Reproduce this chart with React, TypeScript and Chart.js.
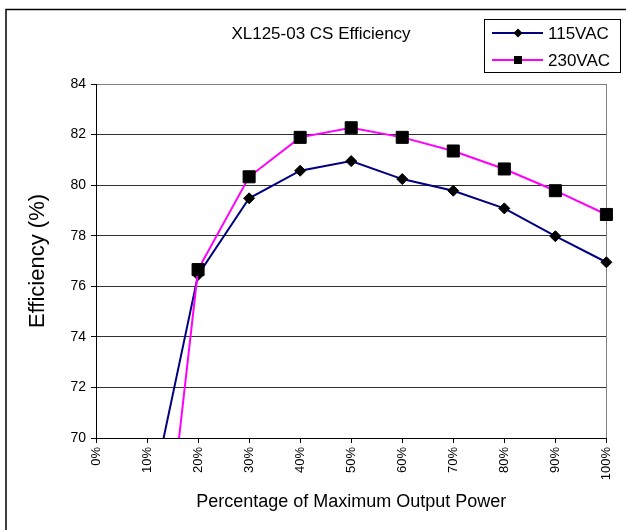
import { useEffect, useRef } from 'react';
import { Chart, registerables } from 'chart.js';

Chart.register(...registerables);

const chartTitle = 'XL125-03 CS Efficiency';
const xTitle = 'Percentage of Maximum Output Power';
const yTitle = 'Efficiency (%)';
const categories = ['0%', '10%', '20%', '30%', '40%', '50%', '60%', '70%', '80%', '90%', '100%'];
const seriesNames = ['115VAC', '230VAC'];
const series115 = [null, 66.9, 76.45, 79.48, 80.57, 80.95, 80.24, 79.78, 79.08, 77.98, 76.95];
const series230 = [null, 58.8, 76.66, 80.33, 81.89, 82.27, 81.89, 81.35, 80.64, 79.78, 78.84];
const yMin = 70;
const yMax = 84;
const yStep = 2;

const FONT = '"Liberation Sans", Arial, Helvetica, sans-serif';

const framePlugin = {
  id: 'frame',
  beforeDraw(chart: any) {
    const { ctx, width, height } = chart;
    ctx.save();
    ctx.fillStyle = '#ffffff';
    ctx.fillRect(0, 0, width, height);
    ctx.restore();
  },
  beforeDatasetsDraw(chart: any) {
    const { ctx, chartArea } = chart;
    ctx.save();
    ctx.strokeStyle = '#808080';
    ctx.lineWidth = 1;
    const x = Math.round(chartArea.right) + 0.5;
    ctx.beginPath();
    ctx.moveTo(x, chartArea.top);
    ctx.lineTo(x, chartArea.bottom);
    ctx.stroke();
    ctx.restore();
  },
  afterDraw(chart: any) {
    const { ctx } = chart;
    ctx.save();
    // outer frame
    ctx.strokeStyle = '#000000';
    ctx.lineWidth = 1.5;
    ctx.strokeRect(6, 9.5, 700, 600);

    // title
    ctx.fillStyle = '#000000';
    ctx.font = `17px ${FONT}`;
    ctx.textAlign = 'center';
    ctx.textBaseline = 'middle';
    ctx.fillText(chartTitle, 321, 34);

    // legend box
    ctx.lineWidth = 1;
    ctx.strokeStyle = '#000000';
    ctx.strokeRect(484.5, 19.5, 136, 53);
    const ds = chart.data.datasets;
    const rows = [33, 60];
    ds.forEach((d: any, i: number) => {
      const y = rows[i];
      ctx.strokeStyle = d.borderColor;
      ctx.lineWidth = 2;
      ctx.beginPath();
      ctx.moveTo(492, y);
      ctx.lineTo(543, y);
      ctx.stroke();
      ctx.fillStyle = '#000000';
      ctx.beginPath();
      if (d.pointStyle === 'rectRot') {
        ctx.moveTo(518, y - 4.5);
        ctx.lineTo(522.5, y);
        ctx.lineTo(518, y + 4.5);
        ctx.lineTo(513.5, y);
        ctx.closePath();
      } else {
        ctx.rect(514, y - 4, 8, 8);
      }
      ctx.fill();
      ctx.fillStyle = '#000000';
      ctx.font = `17px ${FONT}`;
      ctx.textAlign = 'left';
      ctx.textBaseline = 'middle';
      ctx.fillText(d.label, 548, y + 1);
    });
    ctx.restore();
  },
};

export default function App() {
  const ref = useRef<HTMLCanvasElement>(null);

  useEffect(() => {
    if (!ref.current) return;
    const chart = new Chart(ref.current, {
      type: 'line',
      data: {
        labels: categories,
        datasets: [
          {
            label: seriesNames[0],
            data: series115,
            borderColor: '#000080',
            backgroundColor: '#000000',
            borderWidth: 2,
            pointStyle: 'rectRot',
            pointRadius: 5.5,
            pointBackgroundColor: '#000000',
            pointBorderColor: '#000000',
            pointBorderWidth: 1,
            tension: 0,
            order: 1,
          },
          {
            label: seriesNames[1],
            data: series230,
            borderColor: '#FF00FF',
            backgroundColor: '#000000',
            borderWidth: 2,
            pointStyle: 'rect',
            pointRadius: 8.5,
            pointBackgroundColor: '#000000',
            pointBorderColor: '#000000',
            pointBorderWidth: 1,
            tension: 0,
            order: 0,
          },
        ],
      },
      options: {
        responsive: false,
        animation: false,
        devicePixelRatio: 1,
        layout: { padding: { left: 25, right: 18, top: 84, bottom: 17 } },
        plugins: {
          legend: { display: false },
          title: { display: false },
          tooltip: { enabled: false },
        },
        scales: {
          x: {
            type: 'category',
            offset: false,
            afterFit: (s: any) => {
              s.height = 75;
            },
            grid: {
              display: true,
              drawOnChartArea: false,
              drawTicks: true,
              tickLength: 5,
              color: '#000000',
            },
            border: { display: true, color: '#000000', width: 1 },
            ticks: {
              autoSkip: false,
              maxRotation: 90,
              minRotation: 90,
              padding: 4,
              color: '#000000',
              font: { family: FONT, size: 13 },
            },
            title: {
              display: true,
              text: xTitle,
              color: '#000000',
              padding: 0,
              font: { family: FONT, size: 18 },
            },
          },
          y: {
            min: yMin,
            max: yMax,
            afterFit: (s: any) => {
              s.width = 71;
            },
            grid: {
              display: true,
              drawTicks: true,
              tickLength: 5,
              color: (c: any) => (c.tick && c.tick.value === yMax ? '#808080' : '#303030'),
              tickColor: '#000000',
            },
            border: { display: true, color: '#000000', width: 1 },
            ticks: {
              stepSize: yStep,
              padding: 5,
              color: '#000000',
              font: { family: FONT, size: 14 },
            },
            title: {
              display: true,
              text: yTitle,
              color: '#000000',
              padding: 0,
              font: { family: FONT, size: 22 },
            },
          },
        },
      },
      plugins: [framePlugin],
    });
    return () => chart.destroy();
  }, []);

  return (
    <div style={{ position: 'absolute', left: 0, top: 0, width: 626, height: 530 }}>
      <canvas ref={ref} width={626} height={530} style={{ width: 626, height: 530, display: 'block' }} />
    </div>
  );
}
